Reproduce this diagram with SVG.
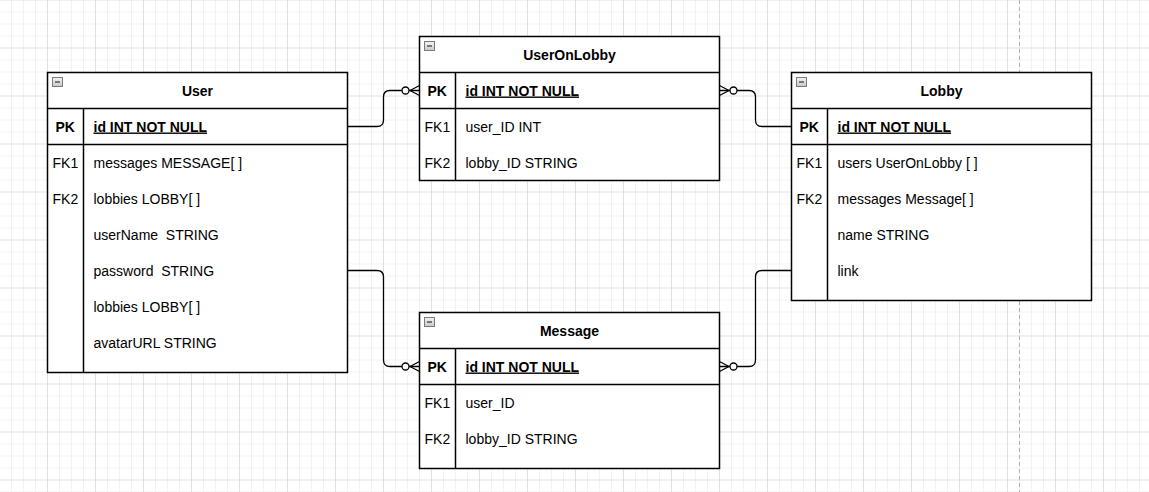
<svg xmlns="http://www.w3.org/2000/svg" width="1149" height="492" viewBox="0 0 1149 492">
<style>
text{font-family:"Liberation Sans",Arial,sans-serif;font-size:14px;fill:#000}
.hd{font-weight:bold;text-anchor:middle}
.pk{font-weight:bold}
.pkf{font-weight:bold;text-decoration:underline}
.box{fill:#fff;stroke:#000;stroke-width:1.5}
.ln{stroke:#000;stroke-width:1.5;fill:none}
.con{stroke:#000;stroke-width:1.3;fill:none}
.circ{fill:#fff;stroke:#000;stroke-width:1.3}
.ic{fill:url(#icg);stroke:#7a7a7a;stroke-width:1}
.icm{stroke:#333;stroke-width:1.2}
</style>
<defs>
<pattern id="grid" patternUnits="userSpaceOnUse" x="-1" y="-0.5" width="48" height="48">
<path d="M12.5,0V48M24.5,0V48M36.5,0V48M0,12.5H48M0,24.5H48M0,36.5H48" stroke="#f2f2f2" stroke-width="1" fill="none"/>
<path d="M0.5,0V48M0,0.5H48" stroke="#e0e0e0" stroke-width="1" fill="none"/>
</pattern>
<linearGradient id="icg" x1="0" y1="0" x2="0" y2="1">
<stop offset="0" stop-color="#f4f4f4"/>
<stop offset="1" stop-color="#c8c8c8"/>
</linearGradient>
</defs>
<rect width="1149" height="492" fill="#fff"/>
<rect width="1149" height="492" fill="url(#grid)"/>
<line x1="1019.5" y1="0" x2="1019.5" y2="492" stroke="#b0b0b0" stroke-width="1" stroke-dasharray="4 3"/>

<g id="connectors">
<path class="con" d="M347.5,126.5H377Q383.5,126.5 383.5,120V97Q383.5,90.5 390,90.5H419.5"/>
<path class="con" d="M410,90.5L419.5,85.5M410,90.5L419.5,95.5"/>
<circle class="circ" cx="405.5" cy="90.5" r="3.5"/>

<path class="con" d="M719.5,90.5H749Q755.5,90.5 755.5,97V120Q755.5,126.5 762,126.5H791.5"/>
<path class="con" d="M729,90.5L719.5,85.5M729,90.5L719.5,95.5"/>
<circle class="circ" cx="733.5" cy="90.5" r="3.5"/>

<path class="con" d="M347.5,270.5H377Q383.5,270.5 383.5,277V360Q383.5,366.5 390,366.5H419.5"/>
<path class="con" d="M410,366.5L419.5,361.5M410,366.5L419.5,371.5"/>
<circle class="circ" cx="405.5" cy="366.5" r="3.5"/>

<path class="con" d="M791.5,270.5H762Q755.5,270.5 755.5,277V360Q755.5,366.5 749,366.5H719.5"/>
<path class="con" d="M729,366.5L719.5,361.5M729,366.5L719.5,371.5"/>
<circle class="circ" cx="733.5" cy="366.5" r="3.5"/>
</g>

<g id="User">
<rect class="box" x="47.5" y="72.5" width="300" height="300"/>
<path class="ln" d="M47.5,108.5H347.5M47.5,144.5H347.5M83.5,108.5V372.5"/>
<rect class="ic" x="52.5" y="77.5" width="10" height="9"/>
<line class="icm" x1="55" y1="82" x2="60" y2="82"/>
<text class="hd" x="197.5" y="95.5">User</text>
<text class="pk" x="55.5" y="131.5">PK</text>
<text class="pkf" x="93.5" y="131.5">id INT NOT NULL</text>
<text x="52.5" y="167.5">FK1</text>
<text x="93.5" y="167.5">messages MESSAGE[ ]</text>
<text x="52.5" y="203.5">FK2</text>
<text x="93.5" y="203.5">lobbies LOBBY[ ]</text>
<text x="93.5" y="239.5" xml:space="preserve">userName  STRING</text>
<text x="93.5" y="275.5" xml:space="preserve">password  STRING</text>
<text x="93.5" y="311.5">lobbies LOBBY[ ]</text>
<text x="93.5" y="347.5">avatarURL STRING</text>
</g>

<g id="UserOnLobby">
<rect class="box" x="419.5" y="36.5" width="300" height="144"/>
<path class="ln" d="M419.5,72.5H719.5M419.5,108.5H719.5M455.5,72.5V180.5"/>
<rect class="ic" x="424.5" y="41.5" width="10" height="9"/>
<line class="icm" x1="427" y1="46" x2="432" y2="46"/>
<text class="hd" x="569.5" y="59.5">UserOnLobby</text>
<text class="pk" x="427.5" y="95.5">PK</text>
<text class="pkf" x="465.5" y="95.5">id INT NOT NULL</text>
<text x="424.5" y="131.5">FK1</text>
<text x="465.5" y="131.5">user_ID INT</text>
<text x="424.5" y="167.5">FK2</text>
<text x="465.5" y="167.5">lobby_ID STRING</text>
</g>

<g id="Lobby">
<rect class="box" x="791.5" y="72.5" width="300" height="228"/>
<path class="ln" d="M791.5,108.5H1091.5M791.5,144.5H1091.5M827.5,108.5V300.5"/>
<rect class="ic" x="796.5" y="77.5" width="10" height="9"/>
<line class="icm" x1="799" y1="82" x2="804" y2="82"/>
<text class="hd" x="941.5" y="95.5">Lobby</text>
<text class="pk" x="799.5" y="131.5">PK</text>
<text class="pkf" x="837.5" y="131.5">id INT NOT NULL</text>
<text x="796.5" y="167.5">FK1</text>
<text x="837.5" y="167.5">users UserOnLobby [ ]</text>
<text x="796.5" y="203.5">FK2</text>
<text x="837.5" y="203.5">messages Message[ ]</text>
<text x="837.5" y="239.5">name STRING</text>
<text x="837.5" y="275.5">link</text>
</g>

<g id="Message">
<rect class="box" x="419.5" y="312.5" width="300" height="156"/>
<path class="ln" d="M419.5,348.5H719.5M419.5,384.5H719.5M455.5,348.5V468.5"/>
<rect class="ic" x="424.5" y="317.5" width="10" height="9"/>
<line class="icm" x1="427" y1="322" x2="432" y2="322"/>
<text class="hd" x="569.5" y="335.5">Message</text>
<text class="pk" x="427.5" y="371.5">PK</text>
<text class="pkf" x="465.5" y="371.5">id INT NOT NULL</text>
<text x="424.5" y="407.5">FK1</text>
<text x="465.5" y="407.5">user_ID</text>
<text x="424.5" y="443.5">FK2</text>
<text x="465.5" y="443.5">lobby_ID STRING</text>
</g>
</svg>
